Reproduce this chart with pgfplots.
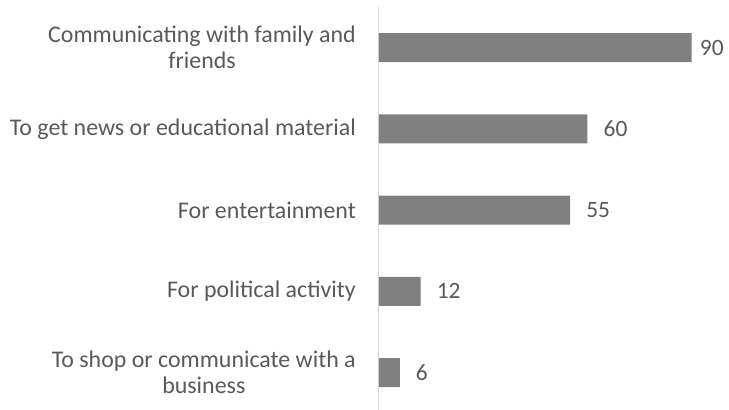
\documentclass[border=0pt]{standalone}
\usepackage{pgfplots}
\pgfplotsset{compat=1.18}
\usepackage{fontspec}
\setmainfont{Carlito}
\definecolor{barc}{HTML}{808080}
\definecolor{txt}{HTML}{595959}
\definecolor{axc}{HTML}{D9D9D9}
\begin{document}
\begin{tikzpicture}
\begin{axis}[
  at={(0,0)}, anchor=south west,
  scale only axis,
  width=347.5bp, height=403.1bp,
  xmin=0, xmax=100,
  ymin=-0.4615, ymax=4.5,
  xbar, bar width=29bp,
  axis x line=none,
  axis y line*=left,
  y axis line style={axc, line width=1bp, -},
  ytick={0,1,2,3,4},
  yticklabels={{To shop or communicate with a\\business},{For political activity},{For entertainment},{To get news or educational material},{Communicating with family and\\friends}},
  major tick length=0pt,
  /pgf/number format/assume math mode=true,
  yticklabel style={font=\fontsize{24}{26.5}\selectfont, text=txt, align=center, inner sep=0pt, xshift=-23bp},
  nodes near coords,
  visualization depends on={rawx \as \rawx},
  every node near coord/.append style={font=\fontsize{23.5}{26.5}\selectfont, text=txt, inner sep=0pt, xshift={(\rawx>80)?8:16}},
]
\addplot[fill=barc, draw=none] coordinates {(6,0) (12,1) (55,2) (60,3) (90,4)};
\end{axis}
\pgfresetboundingbox
\useasboundingbox (-379bp,0) rectangle (350bp,410bp);
\end{tikzpicture}
\end{document}
